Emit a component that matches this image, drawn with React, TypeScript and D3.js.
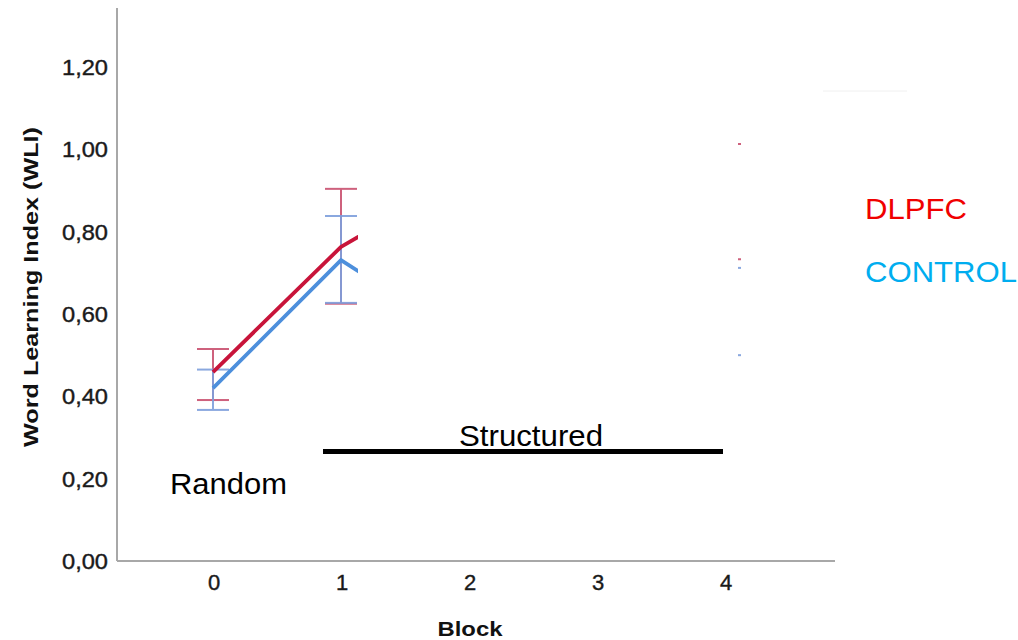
import React from "react";
import * as d3 from "d3";

const blocks = [0, 1, 2, 3, 4];
const dlpfcMean = [0.459, 0.763, 0.945, 0.95, 0.873];
const dlpfcLow = [0.391, 0.625, 0.8, 0.81, 0.733];
const dlpfcHigh = [0.515, 0.904, 1.09, 1.09, 1.013];
const controlMean = [0.42, 0.731, 0.53, 0.58, 0.606];
const controlLow = [0.367, 0.627, 0.43, 0.47, 0.5];
const controlHigh = [0.465, 0.838, 0.63, 0.69, 0.712];
const yTicks = [0, 0.2, 0.4, 0.6, 0.8, 1.0, 1.2];
const seriesNames = ["DLPFC", "CONTROL"];

const W = 1018;
const H = 640;
const FONT = "'Liberation Sans', Arial, Helvetica, sans-serif";

export default function App() {
  const x = d3.scaleLinear().domain([0, 4]).range([213, 725]);
  const y = d3.scaleLinear().domain([0, 1.2]).range([561, 67]);
  const axisLeft = 117;
  const axisRight = 835;
  const axisTop = 8;

  const series = [
    { name: seriesNames[0], mean: dlpfcMean, low: dlpfcLow, high: dlpfcHigh, line: "#c8143a", err: "#c9506f" },
    { name: seriesNames[1], mean: controlMean, low: controlLow, high: controlHigh, line: "#4d8fdc", err: "#7e9fdc" },
  ];
  const line = d3.line<number>().x((_, i) => x(blocks[i])).y((d) => y(d));
  const fmt = (v: number) => v.toFixed(2).replace(".", ",");
  const capHalf = 16;

  return (
    <svg width={W} height={H} style={{ position: "absolute", left: 0, top: 0, background: "#fff" }}>
      <defs>
        <clipPath id="visible">
          <rect x={0} y={0} width={358} height={H} />
          <rect x={738} y={0} width={W - 738} height={H} />
        </clipPath>
      </defs>
      {/* axes */}
      <line x1={axisLeft} x2={axisLeft} y1={axisTop} y2={y(0)} stroke="#a8a8a8" strokeWidth={2} />
      <line x1={axisLeft} x2={axisRight} y1={y(0)} y2={y(0)} stroke="#a8a8a8" strokeWidth={2} />
      <line x1={823} x2={907} y1={91} y2={91} stroke="#f0f0f0" strokeWidth={1} />
      {yTicks.map((t) => (
        <text key={t} x={108} y={y(t)} dy="0.36em" textAnchor="end" fontFamily={FONT} fontSize={22} fill="#1a1a1a" stroke="#1a1a1a" strokeWidth={0.4} textLength={46} lengthAdjust="spacingAndGlyphs">
          {fmt(t)}
        </text>
      ))}
      {blocks.map((b) => (
        <text key={b} x={x(b) + 1} y={590} textAnchor="middle" fontFamily={FONT} fontSize={22} fill="#1a1a1a" stroke="#1a1a1a" strokeWidth={0.4}>
          {b}
        </text>
      ))}
      <text x={470} y={636} textAnchor="middle" fontFamily={FONT} fontSize={21} fontWeight="bold" fill="#111" textLength={65} lengthAdjust="spacingAndGlyphs">
        Block
      </text>
      <text
        transform={`translate(38,287) rotate(-90)`}
        textAnchor="middle"
        fontFamily={FONT}
        fontSize={21}
        fontWeight="bold"
        fill="#111"
        textLength={320}
        lengthAdjust="spacingAndGlyphs"
      >
        Word Learning Index (WLI)
      </text>
      {/* series */}
      <g clipPath="url(#visible)">
        {series.map((s) => (
          <g key={s.name}>
            {blocks.map((b, i) => (
              <g key={b} stroke={s.err} strokeWidth={2} opacity={0.9}>
                <line x1={x(b)} x2={x(b)} y1={y(s.low[i])} y2={y(s.high[i])} />
                <line x1={x(b) - capHalf} x2={x(b) + capHalf} y1={y(s.low[i])} y2={y(s.low[i])} />
                <line x1={x(b) - capHalf} x2={x(b) + capHalf} y1={y(s.high[i])} y2={y(s.high[i])} />
              </g>
            ))}
          </g>
        ))}
        {series.map((s) => (
          <path key={s.name} d={line(s.mean) || ""} fill="none" stroke={s.line} strokeWidth={3.8} strokeLinejoin="round" />
        ))}
      </g>
      {/* annotations */}
      <line x1={323} x2={723} y1={451.5} y2={451.5} stroke="#000" strokeWidth={5} />
      <text x={531} y={446} textAnchor="middle" fontFamily={FONT} fontSize={30} fill="#000" textLength={144} lengthAdjust="spacingAndGlyphs">
        Structured
      </text>
      <text x={170} y={494} fontFamily={FONT} fontSize={30} fill="#000" textLength={117} lengthAdjust="spacingAndGlyphs">
        Random
      </text>
      <text x={865} y={219} fontFamily={FONT} fontSize={30} fill="#f00000" textLength={102} lengthAdjust="spacingAndGlyphs">
        {seriesNames[0]}
      </text>
      <text x={865} y={282} fontFamily={FONT} fontSize={30} fill="#00adef" textLength={152} lengthAdjust="spacingAndGlyphs">
        {seriesNames[1]}
      </text>
    </svg>
  );
}
